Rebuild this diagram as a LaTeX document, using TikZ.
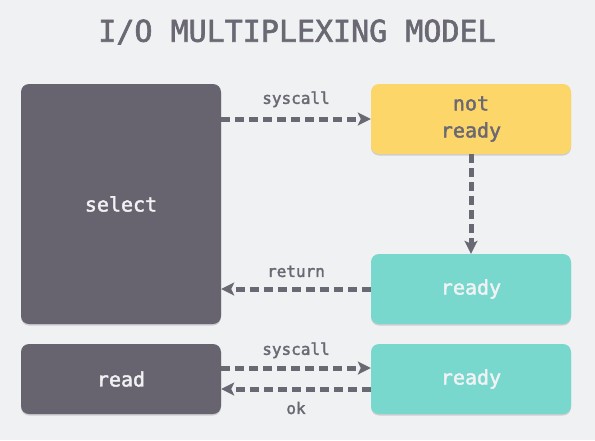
\documentclass[tikz,border=0pt]{standalone}
\usepackage{fontspec}
\setmonofont{DejaVu Sans Mono}
\newfontfamily\medmono{DejaVu Sans Mono}[FakeBold=2]
\usepackage{xcolor}
\usetikzlibrary{arrows.meta,positioning,calc,shadows}

\definecolor{bgcol}{HTML}{F0F1F3}
\definecolor{darkcol}{HTML}{67646F}
\definecolor{yellowcol}{HTML}{FCD669}
\definecolor{tealcol}{HTML}{78D8CD}
\definecolor{inkcol}{HTML}{6A6873}
\definecolor{lightink}{HTML}{F2F2F4}

\begin{document}
\begin{tikzpicture}[
  x=1pt, y=-1pt,
  font=\medmono,
  procbox/.style={rounded corners=8pt, align=center, minimum width=200pt, minimum height=70pt,
    font=\medmono\fontsize{20}{27}\selectfont,
    drop shadow={shadow xshift=0pt, shadow yshift=-1.5pt, opacity=0.25, fill=black!60}},
  darkbox/.style={procbox, fill=darkcol, text=lightink},
  waitbox/.style={procbox, fill=yellowcol, text=inkcol},
  donebox/.style={procbox, fill=tealcol, text=lightink},
  lbl/.style={font=\medmono\fontsize{16}{16}\selectfont, text=inkcol},
  arr/.style={-{Stealth[length=13pt,width=13pt,inset=3pt]}, draw=inkcol, line width=5pt, dash pattern=on 9pt off 5pt}
]
  \fill[bgcol] (0,0) rectangle (595,440);
  \useasboundingbox (0,0) rectangle (595,440);

  \node[text=inkcol, font=\medmono\fontsize{30}{30}\selectfont] (title) at (297,32) {I/O MULTIPLEXING MODEL};

  % left column
  \node[darkbox, minimum height=240pt] (select) at (121,204) {select};
  \node[darkbox] (read) at (121,379) {read};

  % right column
  \node[waitbox] (notready) at (471,119) {not\\ready};
  \node[donebox] (ready) at (471,289) {ready};
  \node[donebox] (readyok) at (471,379) {ready};

  \draw[arr] (notready.west -| select.east) -- node[lbl, above=6pt] {syscall} (notready.west);
  \draw[arr] (notready.south) -- (ready.north);
  \draw[arr] (ready.west) -- node[lbl, above=6pt] {return} (ready.west -| select.east);
  \draw[arr] ([yshift=11pt]read.east) -- node[lbl, above=4pt] {syscall} ([yshift=11pt]readyok.west);
  \draw[arr] ([yshift=-10pt]readyok.west) -- node[lbl, below=7pt] {ok} ([yshift=-10pt]read.east);
\end{tikzpicture}
\end{document}
